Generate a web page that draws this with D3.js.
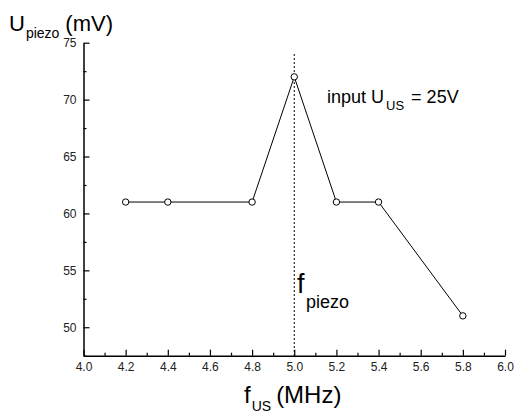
<!DOCTYPE html>
<html>
<head>
<meta charset="UTF-8">
<script src="https://d3js.org/d3.v7.min.js"></script>
<style>
  body { margin: 0; background: #fff; }
  text { font-family: Arial, "Liberation Sans", sans-serif; fill: #000; }
  .tick text { fill: #222; font-size: 12px; }
</style>
</head>
<body>
<div class="canvas"></div>
<script>
  // data
  const freq = [4.2, 4.4, 4.8, 5.0, 5.2, 5.4, 5.8];   // f_US (MHz)
  const volt = [61, 61, 61, 72, 61, 61, 51];          // U_piezo (mV)
  const xMajor = [4.0, 4.2, 4.4, 4.6, 4.8, 5.0, 5.2, 5.4, 5.6, 5.8, 6.0];
  const yMajor = [50, 55, 60, 65, 70, 75];
  const fPiezo = 5.0;

  const W = 515, H = 414;
  const mLeft = 83.5, mRight = 505, mTop = 42.7, mBottom = 355.7;

  const svg = d3.select('.canvas').append('svg')
    .attr('width', W).attr('height', H);

  const x = d3.scaleLinear().domain([4.0, 6.0]).range([mLeft, mRight]);
  const y = d3.scaleLinear().domain([47.5, 75]).range([mBottom, mTop]);

  // minor ticks
  const xMinor = d3.range(4.1, 6.0, 0.2);
  const yMinor = d3.range(47.5, 75, 5);

  svg.append('g')
    .attr('transform', `translate(0,${mBottom})`)
    .call(d3.axisBottom(x).tickValues(xMinor).tickSize(-3).tickFormat(''))
    .call(g => g.select('.domain').remove())
    .selectAll('line').attr('stroke-width', 1.2);

  svg.append('g')
    .attr('transform', `translate(${mLeft},0)`)
    .call(d3.axisLeft(y).tickValues(yMinor).tickSize(-3).tickFormat(''))
    .call(g => g.select('.domain').remove())
    .selectAll('line').attr('stroke-width', 1.2);

  // major axes (ticks inward, labels outside)
  const xAxis = svg.append('g')
    .attr('transform', `translate(0,${mBottom})`)
    .call(d3.axisBottom(x).tickValues(xMajor).tickSize(-6).tickSizeOuter(0).tickPadding(7)
      .tickFormat(d3.format('.1f')));
  xAxis.select('.domain').attr('stroke-width', 1.5);
  xAxis.selectAll('line').attr('stroke-width', 1.2);

  const yAxis = svg.append('g')
    .attr('transform', `translate(${mLeft},0)`)
    .call(d3.axisLeft(y).tickValues(yMajor).tickSize(-6).tickSizeOuter(0).tickPadding(7));
  yAxis.select('.domain').attr('stroke-width', 1.5);
  yAxis.selectAll('line').attr('stroke-width', 1.2);

  // dotted line at f_piezo
  svg.append('line')
    .attr('x1', x(fPiezo)).attr('x2', x(fPiezo))
    .attr('y1', 54).attr('y2', mBottom)
    .attr('stroke', '#000').attr('stroke-width', 1)
    .attr('stroke-dasharray', '2,2');

  const pts = freq.map((f, i) => [f, volt[i]]);

  svg.append('path')
    .datum(pts)
    .attr('fill', 'none').attr('stroke', '#000').attr('stroke-width', 1)
    .attr('d', d3.line().x(d => x(d[0])).y(d => y(d[1])));

  svg.selectAll('circle.pt')
    .data(pts).enter().append('circle')
    .attr('class', 'pt')
    .attr('cx', d => x(d[0])).attr('cy', d => y(d[1]))
    .attr('r', 3.2)
    .attr('fill', '#fff').attr('stroke', '#000').attr('stroke-width', 1);

  // y title
  const yt = svg.append('text').attr('x', 9).attr('y', 31).style('font-size', '22px');
  yt.append('tspan').text('U');
  yt.append('tspan').attr('dy', 7).attr('dx', 1).style('font-size', '14px').text('piezo');
  yt.append('tspan').attr('dy', -7).attr('dx', 6).text('(mV)');

  // x title
  const xt = svg.append('text').attr('x', 244).attr('y', 403).style('font-size', '24px');
  xt.append('tspan').text('f');
  xt.append('tspan').attr('dy', 8).attr('dx', 1).style('font-size', '14px').text('US');
  xt.append('tspan').attr('dy', -8).attr('dx', 5).text('(MHz)');

  // annotations
  const ann = svg.append('text').attr('x', 327).attr('y', 103).style('font-size', '18px');
  ann.append('tspan').text('input U');
  ann.append('tspan').attr('dy', 7).attr('dx', 2).style('font-size', '13px').text('US');
  ann.append('tspan').attr('dy', -7).attr('dx', 7).text('= 25V');

  svg.append('text').attr('x', 297).attr('y', 293).style('font-size', '27px').text('f');
  svg.append('text').attr('x', 306).attr('y', 308).style('font-size', '18px').text('piezo');
</script>
</body>
</html>
